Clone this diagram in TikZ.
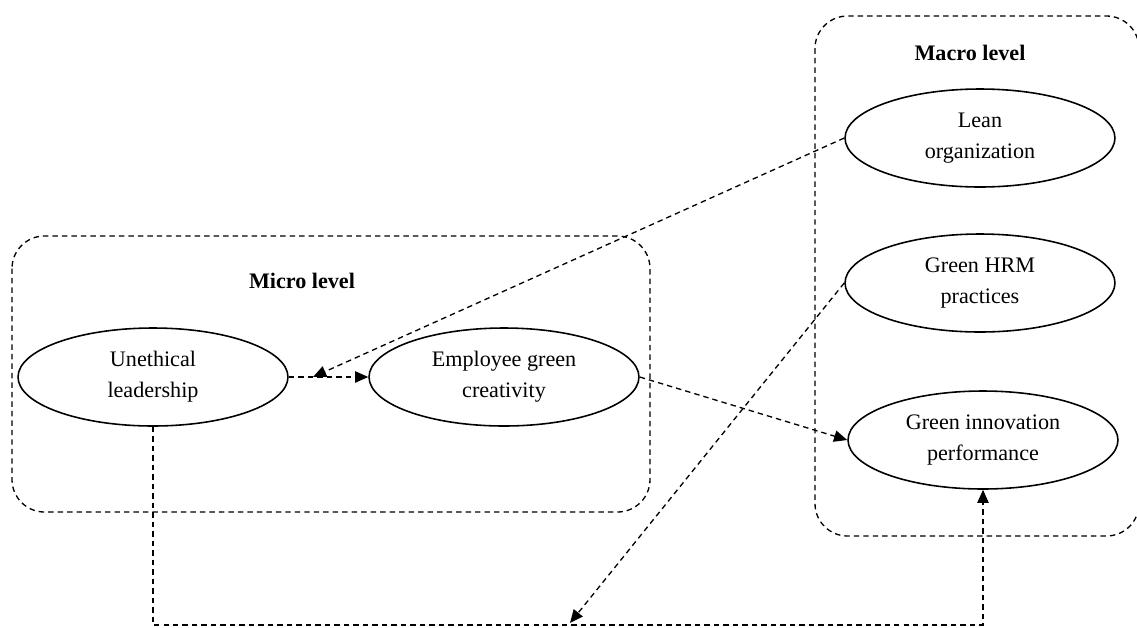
\documentclass[tikz,border=0pt]{standalone}
\usepackage{fontspec}
\setmainfont{Liberation Serif}
\usetikzlibrary{shapes.geometric,arrows.meta}
\tikzset{
  ell/.style={ellipse, draw, line width=0.9pt, minimum width=5.4cm, minimum height=1.96cm, inner sep=0pt, align=center, font=\fontsize{12.6}{17.5}\selectfont},
  dsh/.style={line width=0.75pt, dash pattern=on 3.1pt off 2.3pt},
  conn/.style={dsh, -{Triangle[length=7.5pt,width=6.5pt]}},
  lvl/.style={font=\fontsize{12.6}{15}\selectfont\bfseries},
  grp/.style={dsh, rounded corners=0.65cm}
}
\begin{document}
\begin{tikzpicture}[x=0.02cm,y=-0.02cm]
\useasboundingbox (0,0) rectangle (1137,627);
\clip (0,0) rectangle (1137,627);
% groups
\draw[grp] (12,236) rectangle (650,512);
\draw[grp] (815,16) rectangle (1139,536);
\node[lvl] (micro) at (302,281) {Micro level};
\node[lvl] (macro) at (970,53) {Macro level};
% nodes
\node[ell] (UL) at (153,377) {Unethical\\leadership};
\node[ell] (EGC) at (504,377) {Employee green\\creativity};
\node[ell] (LO) at (980,138) {Lean\\organization};
\node[ell] (HRM) at (980,283) {Green HRM\\practices};
\node[ell] (GIP) at (983,440) {Green innovation\\performance};
% coordinates
\coordinate (t1) at (313,377);
\coordinate (t2) at (570,623);
\coordinate (b1) at (UL.south |- 0,625);
\coordinate (b2) at (GIP.south |- 0,625);
% connectors
\draw[conn] (UL.east) -- (EGC.west);
\draw[conn] (LO.west) -- (t1);
\draw[conn] (EGC.east) -- (GIP.west);
\draw[conn] (HRM.west) -- (t2);
\draw[conn] (UL.south) -- (b1) -- (b2) -- (GIP.south);
\end{tikzpicture}
\end{document}
